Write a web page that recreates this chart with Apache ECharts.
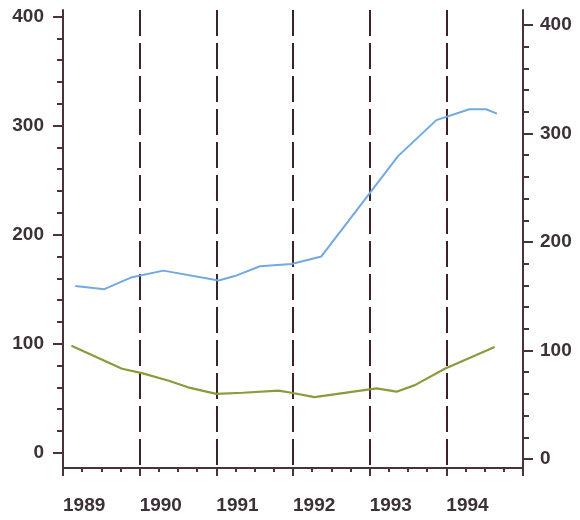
<!DOCTYPE html>
<html>
<head>
<meta charset="utf-8">
<script src="https://cdn.jsdelivr.net/npm/echarts@6/dist/echarts.min.js"></script>
<style>html,body{margin:0;padding:0;background:#fff}#c{width:580px;height:520px}</style>
</head>
<body>
<div id="c"></div>
<script>
// ---- data ----
var yearLabels = [1989, 1990, 1991, 1992, 1993, 1994];
var yearTicks = [1990, 1991, 1992, 1993, 1994];
var yMajorTicks = [0, 100, 200, 300, 400];
var yMinorTicks = [0, 20, 40, 60, 80, 100, 120, 140, 160, 180, 200, 220, 240, 260, 280, 300, 320, 340, 360, 380, 400];

var blueTimes  = [1989.16, 1989.54, 1989.90, 1990.31, 1991.03, 1991.24, 1991.57, 1991.98, 1992.37, 1993.37, 1993.87, 1994.30, 1994.52, 1994.66];
var blueValues = [153, 150, 161, 167, 158, 162, 171, 173, 180, 272, 305, 315, 315, 311];

var greenTimes  = [1989.11, 1989.77, 1990.03, 1990.38, 1990.63, 1991.00, 1991.35, 1991.81, 1991.98, 1992.28, 1993.09, 1993.35, 1993.59, 1993.98, 1994.63];
var greenValues = [98, 77, 73, 66, 60, 54, 55, 57, 55, 51, 59, 56, 62, 77, 97];

function zip(a, b) { return a.map(function (v, i) { return [v, b[i]]; }); }

var axisColor = '#4a3238';
var textColor = '#3b3136';
var labelFont = { fontFamily: 'Liberation Sans, Arial, sans-serif', fontSize: 19, fontWeight: 'bold', color: textColor };

var chart = echarts.init(document.getElementById('c'), null, { renderer: 'canvas' });
chart.setOption({
  animation: false,
  backgroundColor: '#ffffff',
  grid: { left: 63, right: 57, top: 10, bottom: 52, containLabel: false },
  xAxis: {
    type: 'value', min: 1989, max: 1995, interval: 1,
    axisLine: { show: true, onZero: false, lineStyle: { color: axisColor, width: 2 } },
    axisTick: { show: true, length: 8, lineStyle: { color: axisColor, width: 2 } },
    minorTick: { show: true, splitNumber: 4, length: 4, lineStyle: { color: axisColor, width: 2 } },
    axisLabel: Object.assign({ show: true, customValues: yearLabels, align: 'left', margin: 28,
      formatter: function (v) { return String(v); } }, labelFont),
    splitLine: { show: true, showMinLine: false, showMaxLine: false,
      lineStyle: { color: '#3d2329', width: 2, type: [26, 7] } },
    minorSplitLine: { show: false }
  },
  yAxis: [
    { type: 'value', position: 'left', min: -14, max: 406,
      axisLine: { show: true, lineStyle: { color: axisColor, width: 2 } },
      axisTick: { show: true, customValues: yMinorTicks, length: 6, lineStyle: { color: axisColor, width: 2 } },
      axisLabel: { show: false }, splitLine: { show: false } },
    { type: 'value', position: 'left', min: -14, max: 406,
      axisLine: { show: false },
      axisTick: { show: true, customValues: yMajorTicks, length: 10, lineStyle: { color: axisColor, width: 2 } },
      axisLabel: Object.assign({ show: true, customValues: yMajorTicks, margin: 19, padding: [4, 0, 0, 0] }, labelFont),
      splitLine: { show: false } },
    { type: 'value', position: 'right', min: -8.3, max: 413.8,
      axisLine: { show: true, lineStyle: { color: axisColor, width: 2 } },
      axisTick: { show: true, customValues: yMinorTicks, length: 6, lineStyle: { color: axisColor, width: 2 } },
      axisLabel: { show: false }, splitLine: { show: false } },
    { type: 'value', position: 'right', min: -8.3, max: 413.8,
      axisLine: { show: false },
      axisTick: { show: true, customValues: yMajorTicks, length: 10, lineStyle: { color: axisColor, width: 2 } },
      axisLabel: Object.assign({ show: true, customValues: yMajorTicks, margin: 17, padding: [4, 0, 0, 0] }, labelFont),
      splitLine: { show: false } }
  ],
  series: [
    { type: 'line', yAxisIndex: 0, data: zip(blueTimes, blueValues), showSymbol: false, symbol: 'none',
      lineStyle: { color: '#72a9e2', width: 2 } },
    { type: 'line', yAxisIndex: 0, data: zip(greenTimes, greenValues), showSymbol: false, symbol: 'none',
      lineStyle: { color: '#8c9a3c', width: 2.2 } }
  ]
});
</script>
</body>
</html>
